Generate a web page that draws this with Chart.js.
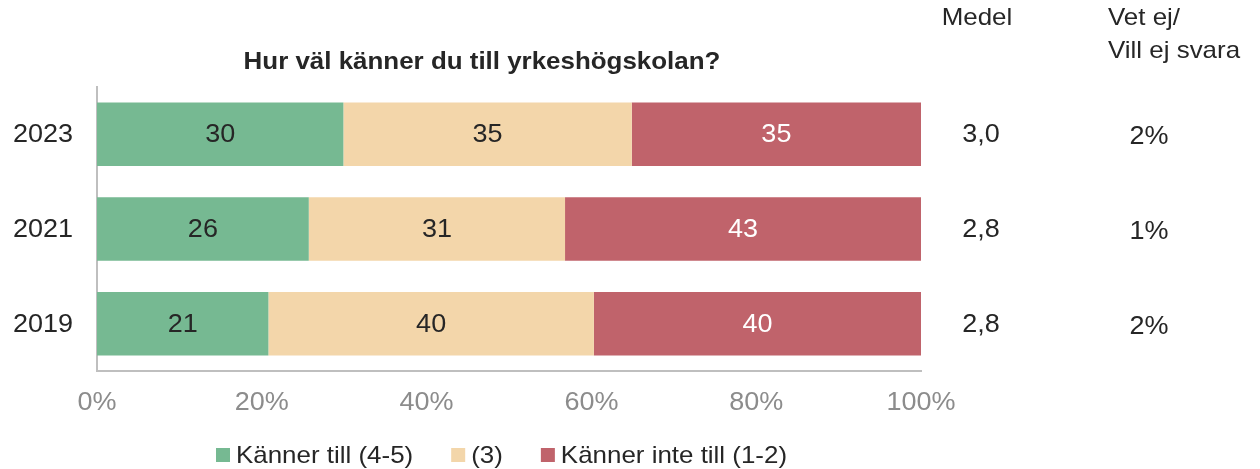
<!DOCTYPE html>
<html>
<head>
<meta charset="utf-8">
<script src="https://cdn.jsdelivr.net/npm/chart.js@4"></script>
<style>
  body { margin: 0; background: #fff; }
</style>
</head>
<body>
<canvas id="chart" width="1260" height="469"></canvas>
<script>
const years = ['2023', '2021', '2019'];
const kannerTill = [29.9, 25.7, 20.8];
const neutral = [35.0, 31.1, 39.5];
const kannerInte = [35.1, 43.2, 39.7];
const medel = ['3,0', '2,8', '2,8'];
const vetEj = ['2%', '1%', '2%'];
const xTicks = [0, 20, 40, 60, 80, 100];
const seriesNames = ['Känner till (4-5)', '(3)', 'Känner inte till (1-2)'];

const FONT = '"Liberation Sans", Arial, sans-serif';
const colors = ['#76b992', '#f3d6aa', '#c0636b'];
const labelColors = ['#262626', '#262626', '#ffffff'];
const SX = 1.08; // the original text is a bit wide

function txt(ctx, s, x, y, align) {
    ctx.save();
    ctx.translate(x, y);
    ctx.scale(SX, 1);
    ctx.textAlign = align || 'center';
    ctx.fillText(s, 0, 0);
    ctx.restore();
}

// tick labels, labels inside bars, extra columns, title and legend
const overlay = {
    id: 'overlay',
    afterDatasetsDraw(chart) {
        const ctx = chart.ctx;
        const xScale = chart.scales.x;
        const yScale = chart.scales.y;
        ctx.save();
        ctx.textBaseline = 'middle';
        ctx.font = '25px ' + FONT;

        chart.data.datasets.forEach((ds, i) => {
            chart.getDatasetMeta(i).data.forEach((bar, j) => {
                const { x, y, base } = bar.getProps(['x', 'y', 'base'], true);
                ctx.fillStyle = labelColors[i];
                txt(ctx, String(Math.round(ds.data[j])), (x + base) / 2, y + 1);
            });
        });

        ctx.fillStyle = '#8c8c8c';
        xTicks.forEach(v => txt(ctx, v + '%', xScale.getPixelForValue(v), 403));

        ctx.fillStyle = '#262626';
        years.forEach((yr, j) => {
            const y = yScale.getPixelForValue(j);
            txt(ctx, yr, 73, y + 1, 'right');
            txt(ctx, medel[j], 981, y + 1);
            txt(ctx, vetEj[j], 1149, y + 3);
        });

        ctx.font = '24px ' + FONT;
        txt(ctx, 'Medel', 977, 18);
        txt(ctx, 'Vet ej/', 1108, 18, 'left');
        txt(ctx, 'Vill ej svara', 1108, 51, 'left');

        ctx.font = 'bold 24px ' + FONT;
        txt(ctx, 'Hur väl känner du till yrkeshögskolan?', 482, 62);

        // legend
        ctx.font = '24px ' + FONT;
        let lx = 216;
        const ly = 455;
        seriesNames.forEach((name, i) => {
            ctx.fillStyle = colors[i];
            ctx.fillRect(lx, ly - 7, 14, 14);
            ctx.fillStyle = '#262626';
            txt(ctx, name, lx + 20, ly + 1, 'left');
            lx += 20 + ctx.measureText(name).width * SX + 38;
        });
        ctx.restore();
    }
};

new Chart(document.getElementById('chart'), {
    type: 'bar',
    data: {
        labels: years,
        datasets: [
            { label: seriesNames[0], data: kannerTill, backgroundColor: colors[0] },
            { label: seriesNames[1], data: neutral, backgroundColor: colors[1] },
            { label: seriesNames[2], data: kannerInte, backgroundColor: colors[2] }
        ]
    },
    options: {
        indexAxis: 'y',
        responsive: false,
        animation: false,
        categoryPercentage: 1,
        barPercentage: 0.67,
        layout: { padding: { top: 87, right: 339, left: 0, bottom: 0 } },
        plugins: {
            legend: { display: false },
            tooltip: { enabled: false }
        },
        scales: {
            x: {
                stacked: true,
                min: 0,
                max: 100,
                ticks: { display: false, stepSize: 20 },
                grid: { display: false, drawTicks: false },
                border: { color: '#bfbfbf', width: 2 },
                afterFit: s => { s.height = 98; }
            },
            y: {
                stacked: true,
                ticks: { display: false },
                grid: { display: false, drawTicks: false },
                border: { color: '#bfbfbf', width: 2 },
                afterFit: s => { s.width = 97; }
            }
        }
    },
    plugins: [overlay]
});
</script>
</body>
</html>
